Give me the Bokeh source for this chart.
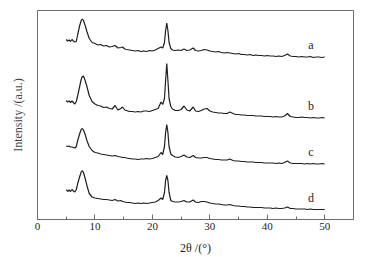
from bokeh.plotting import figure
from bokeh.models import Range1d, SingleIntervalTicker, FixedTicker, ColumnDataSource
from bokeh.embed import file_html
from bokeh.resources import INLINE
from bokeh.core.properties import value

# 2theta grid (degrees)
two_theta = [5, 5.25, 5.5, 5.75, 6, 6.25, 6.5, 6.75, 7, 7.3, 7.6, 7.8, 8.0, 8.3, 8.6,
             9, 9.5, 10, 10.5, 11, 11.5, 12, 12.5, 13, 13.5, 14, 14.5,
             14.8, 15.2,
             15.5, 16, 16.5, 17, 17.5, 18, 18.5, 19, 19.5, 20, 20.5, 21, 21.5,
             21.8, 22.1, 22.3, 22.5, 22.7, 22.9, 23.2,
             23.5, 24, 24.5, 25, 25.5, 26, 26.5,
             27.1,
             27.5, 28, 28.5, 29, 29.5, 30, 30.5, 31, 31.5, 32,
             32.5, 33, 33.5, 34, 34.5, 35, 35.5, 36, 36.5, 37,
             37.5, 38, 38.5, 39, 39.5, 40, 40.5, 41, 41.5, 42,
             42.5, 43, 43.5, 44, 44.5, 45, 45.5, 46, 46.5, 47,
             47.5, 48, 48.5, 49, 49.5, 50]

# intensities as plotted (stacked, a.u.)
series_a = [180, 178.5, 179.5, 178, 180, 178.5, 177.5, 178, 185, 193, 199, 200.5, 199, 194, 188,
            181, 177, 176, 174.5, 175, 173.5, 174, 172.5, 173, 174, 171.5, 172,
            172.5, 170.5,
            170, 169.5, 169, 168.5, 169, 168, 168.5, 168, 169, 168.5, 169.5, 171, 172.5,
            171.5, 177, 189, 196.3, 189, 177, 171,
            169.5, 169, 169.5, 169, 170.5, 169, 169.5,
            171.5,
            169, 168.5, 169, 170, 169.5, 168.5, 168, 167.5, 168, 167,
            166.5, 167, 166.5, 166, 165.5, 166, 165, 165, 164.5, 165,
            164, 164.5, 164, 164, 163.5, 164, 163.5, 163.5, 163, 163.5,
            163, 164, 165.5, 163.5, 163, 163, 162.5, 163, 162.5, 162.5,
            163, 162, 162.5, 162.5, 162, 162.5]

series_b = [119, 117.5, 118.5, 117, 118.5, 117, 115.5, 118, 124, 132, 140, 143, 143.5, 139, 133,
            124, 118, 115.5, 114, 113.5, 112, 112.5, 111, 110.5, 114, 109.5, 111,
            112.5, 109.5,
            109, 108, 108, 107.5, 108, 107.5, 108.5, 108.5, 108, 109, 110, 111, 117.5,
            115, 121, 139, 156, 139, 121, 113,
            110.5, 109, 109, 110, 113.5, 109.5, 108.5,
            112.5,
            108.5, 108, 109, 110.5, 111, 108.5, 107.5, 107, 106.5, 106.5,
            106, 106, 107.5, 106, 105, 105, 104.5, 104.5, 104, 104,
            104, 103.5, 103.5, 103.5, 103, 103, 103, 102.5, 103, 102.5,
            102.5, 103.5, 106, 103, 102.5, 102, 102, 102.5, 102, 102,
            101.5, 102, 101.5, 101.5, 102, 101.5]

series_c = [73.5, 73, 73.5, 72.5, 72.5, 72, 71.5, 73, 79, 85, 90, 91, 89.5, 85, 79,
            73, 69, 67, 66.5, 65.5, 65, 64.5, 64, 63.5, 64, 63, 62.5,
            62, 62,
            61.5, 61, 60.5, 60.5, 60, 60.5, 60.5, 61, 60.5, 61, 62, 63, 67,
            65, 73, 87, 95, 87, 73, 65.5,
            64, 62.5, 62, 63, 64.5, 62.5, 62,
            64,
            62, 61.5, 61.5, 62, 62, 61, 60.5, 60, 60, 59.5,
            59.5, 59.5, 60.5, 59, 58.5, 58.5, 58, 58, 57.5, 57.5,
            57.5, 57, 57, 57, 56.5, 56.5, 56.5, 56.5, 56, 56.5,
            56, 57, 58.5, 56.5, 56, 56, 56, 56, 55.5, 56,
            55.5, 56, 55.5, 55.5, 56, 55.5]

series_d = [30, 28, 29.5, 28, 30, 28.5, 27.5, 30, 36, 42, 47.5, 49, 47, 41, 34,
            26, 22.5, 21.5, 21, 20.5, 20, 20, 19.5, 19, 20, 18.5, 19,
            18, 17.5,
            17, 17, 16.5, 16, 16.5, 16, 16.5, 16, 16.5, 17, 17.5, 19, 21.5,
            20, 27, 39, 44, 39, 27, 19,
            18, 17.5, 17.5, 18, 19, 17.5, 17.5,
            19.5,
            17.5, 17, 18, 18, 17.5, 16.5, 16, 15.5, 15.5, 15,
            14.5, 14.5, 15, 14, 13.5, 13.5, 13, 13, 12.5, 12.5,
            12, 12, 12, 12, 11.5, 11.5, 11.5, 11, 11.5, 11,
            11, 11.5, 12.5, 11, 11, 10.5, 10.5, 10.5, 10.5, 10,
            10.5, 10, 10, 10, 10, 10]

series_names = ["a", "b", "c", "d"]
x_ticks_interval = 10

SERIF = "Liberation Serif"
INK = "#1e1e1e"
FRAME = "#6e6e6e"

p = figure(width=360, height=257,
           x_range=Range1d(0, 55), y_range=Range1d(0, 209),
           output_backend="svg", toolbar_location=None,
           min_border_left=37, min_border_right=7,
           min_border_top=10, min_border_bottom=38)

p.background_fill_color = "white"
p.border_fill_color = "white"
p.grid.visible = False
p.outline_line_color = FRAME
p.outline_line_width = 1

for ys in (series_a, series_b, series_c, series_d):
    p.line(two_theta, ys, line_color=INK, line_width=1.2)

label_x = [47.6] * 4
label_y = [s[-1] + 12 for s in (series_a, series_b, series_c, series_d)]
src = ColumnDataSource(dict(x=label_x, y=label_y, t=series_names))
p.text(x="x", y="y", text="t", source=src, text_font=value(SERIF),
       text_font_size="12px", text_color=INK,
       text_align="center", text_baseline="middle")

xa = p.xaxis[0]
xa.ticker = SingleIntervalTicker(interval=x_ticks_interval, num_minor_ticks=2)
xa.axis_line_color = FRAME
xa.major_tick_line_color = FRAME
xa.minor_tick_line_color = FRAME
xa.major_tick_in = 5
xa.major_tick_out = 0
xa.minor_tick_in = 3
xa.minor_tick_out = 0
xa.major_label_text_font = SERIF
xa.major_label_text_font_size = "11px"
xa.major_label_text_color = INK
xa.major_label_standoff = 3
xa.axis_label = "2θ /(°)"
xa.axis_label_text_font = SERIF
xa.axis_label_text_font_size = "12px"
xa.axis_label_text_font_style = "normal"
xa.axis_label_text_color = INK
xa.axis_label_standoff = 8

ya = p.yaxis[0]
ya.ticker = FixedTicker(ticks=[])
ya.axis_line_color = FRAME
ya.major_tick_line_color = None
ya.minor_tick_line_color = None
ya.major_label_standoff = 0
ya.axis_label = "Intensity /(a.u.)"
ya.axis_label_text_font = SERIF
ya.axis_label_text_font_size = "12px"
ya.axis_label_text_font_style = "normal"
ya.axis_label_text_color = "#444444"
ya.axis_label_standoff = 13

open("out.html", "w").write(file_html(p, INLINE))
